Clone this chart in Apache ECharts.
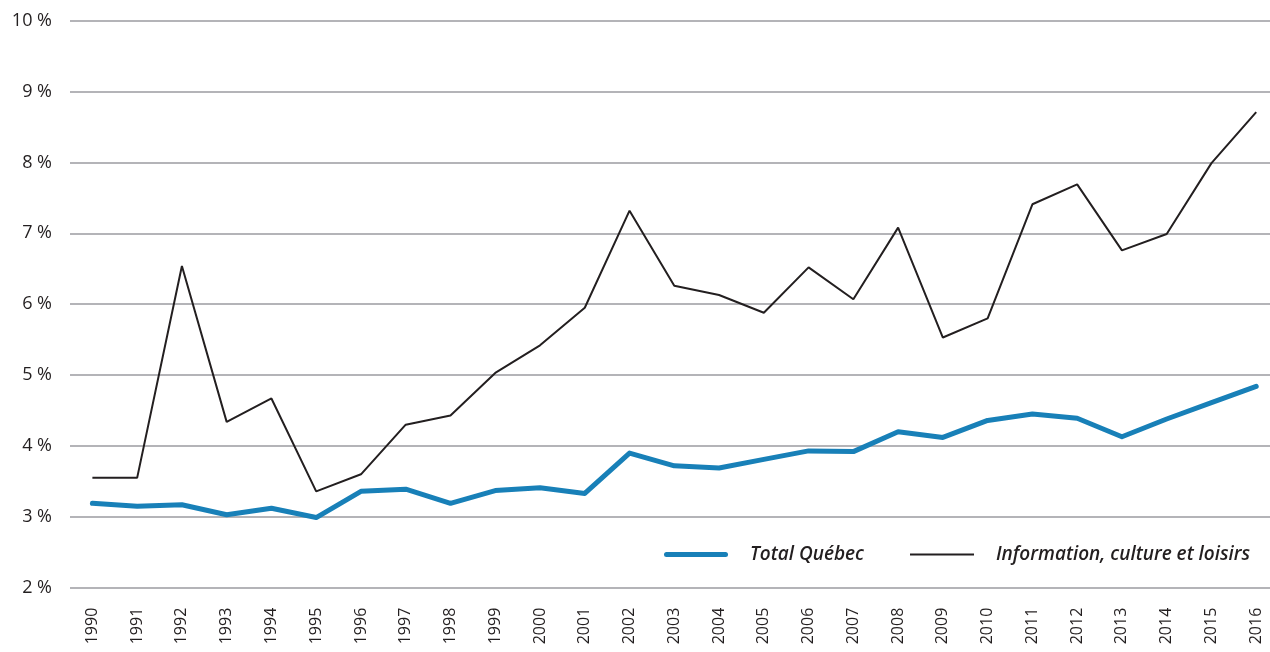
<!DOCTYPE html>
<html>
<head>
<meta charset="utf-8">
<script src="https://cdn.jsdelivr.net/npm/echarts@6/dist/echarts.min.js"></script>
<style>
  html, body { margin: 0; padding: 0; background: #fff; }
  #main { width: 1270px; height: 652px; }
</style>
</head>
<body>
<div id="main"></div>
<script>
var years = ['1990','1991','1992','1993','1994','1995','1996','1997','1998','1999','2000','2001','2002','2003',
             '2004','2005','2006','2007','2008','2009','2010','2011','2012','2013','2014','2015','2016'];
var totalQuebec = [3.19, 3.15, 3.17, 3.03, 3.12, 2.99, 3.36, 3.39, 3.19, 3.37, 3.41, 3.33, 3.90, 3.72,
                   3.69, 3.81, 3.93, 3.92, 4.20, 4.12, 4.36, 4.45, 4.39, 4.13, 4.38, 4.61, 4.84];
var infoCulture = [3.55, 3.55, 6.54, 4.34, 4.67, 3.36, 3.60, 4.30, 4.43, 5.03, 5.42, 5.95, 7.32, 6.26,
                   6.13, 5.88, 6.52, 6.07, 7.08, 5.53, 5.80, 7.41, 7.69, 6.76, 6.99, 7.99, 8.71];

var myChart = echarts.init(document.getElementById('main'));
var txt = '#231f20';
var blue = '#1880b8';
var option = {
    backgroundColor: '#ffffff',
    animation: false,
    textStyle: { fontFamily: '"Open Sans", sans-serif', color: txt },
    grid: { left: 70, top: 20.7, width: 1208.6, height: 567, outerBoundsMode: 'none' },
    legend: {
        left: 659,
        top: 540,
        itemWidth: 64,
        itemHeight: 12,
        itemGap: 46,
        symbolKeepAspect: true,
        textStyle: {
            fontStyle: 'italic', fontWeight: 600, fontSize: 19, color: txt,
            padding: [0, 0, 0, 17]
        },
        data: [
            { name: 'Total Québec', icon: 'path://M2.5,0H61.5A2.5,2.5,0,0,1,61.5,5H2.5A2.5,2.5,0,0,1,2.5,0Z', itemStyle: { color: blue } },
            { name: 'Information, culture et loisirs', icon: 'path://M0,0H64V2.2H0Z', itemStyle: { color: txt } }
        ]
    },
    xAxis: {
        type: 'category',
        data: years,
        axisLine: { show: false },
        axisTick: { show: false },
        axisLabel: { rotate: 90, margin: 20, fontSize: 16, color: txt }
    },
    yAxis: {
        type: 'value',
        min: 2, max: 10, interval: 1,
        axisLine: { show: false },
        axisTick: { show: false },
        axisLabel: { formatter: '{value} %', margin: 18, fontSize: 18, color: txt },
        splitLine: { lineStyle: { color: '#b4b4b8', width: 2 } }
    },
    series: [{
        name: 'Total Québec',
        type: 'line',
        symbol: 'none',
        data: totalQuebec,
        lineStyle: { color: blue, width: 5, cap: 'round', join: 'round' },
        itemStyle: { color: blue }
    }, {
        name: 'Information, culture et loisirs',
        type: 'line',
        symbol: 'none',
        data: infoCulture,
        lineStyle: { color: txt, width: 2 },
        itemStyle: { color: txt }
    }]
};
myChart.setOption(option);
</script>
</body>
</html>
